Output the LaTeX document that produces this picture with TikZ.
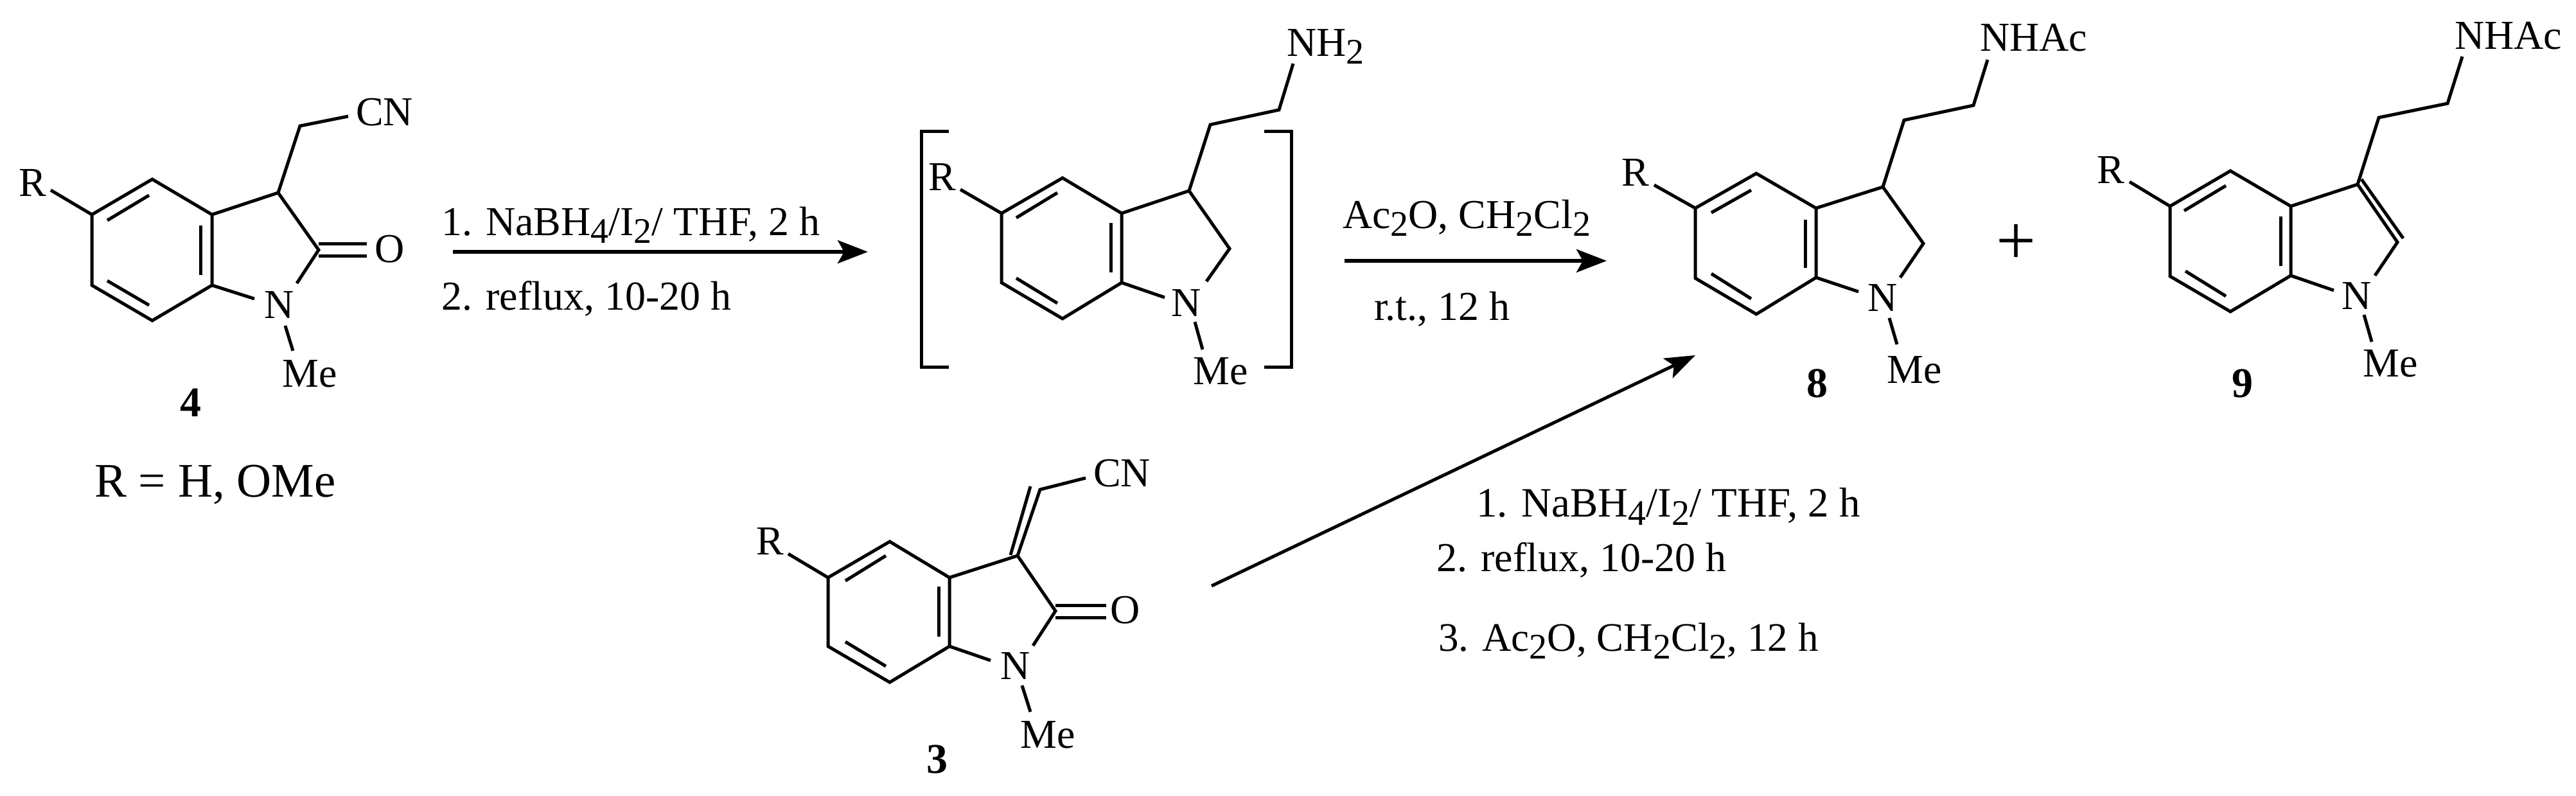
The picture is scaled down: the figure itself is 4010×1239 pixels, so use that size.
\documentclass[tikz,border=0pt]{standalone}
\usepackage{fontspec}
\setmainfont{Liberation Serif}
\usetikzlibrary{arrows.meta}
\newcommand{\sbs}[1]{\raisebox{-.2em}{\fontsize{56}{56}\selectfont #1}}
\newcommand{\ringbonds}[1]{\draw[bond] (#1t)--(#1ul)--(#1ll)--(#1b)--(#1lr)--(#1ur)--cycle;}
\tikzset{
  bond/.style={line width=5pt,line join=miter,line cap=butt,black},
  txt/.style={inner sep=0pt,outer sep=0pt,font=\fontsize{64}{70}\selectfont,text=black},
  lead/.style={txt,anchor=base west},
  num/.style={txt,font=\fontsize{66}{70}\selectfont\bfseries},
  rxn/.style={line width=5.6pt,black,-{Stealth[length=47pt,width=36pt,inset=10pt]}},
  rxnthin/.style={line width=5pt,black,-{Stealth[length=47pt,width=34pt,inset=10pt]}},
}
\begin{document}
\begin{tikzpicture}[x=1pt,y=-1pt]
\useasboundingbox[fill=white] (0,0) rectangle (4010,1239);

% ---------- compound 4
\coordinate (At) at (237,279); \coordinate (Aul) at (143,334); \coordinate (All) at (143,444);
\coordinate (Ab) at (237,499); \coordinate (Alr) at (330,444); \coordinate (Aur) at (330,334);
\coordinate (Ac3) at (433,300); \coordinate (Ac2) at (496,389); \coordinate (Ach) at (467,196);
\coordinate (Acn) at (542,181); \coordinate (Ar) at (79,296); \coordinate (Anl) at (396,465);
\coordinate (Anr) at (462,441); \coordinate (Anm) at (444,507); \coordinate (Ame) at (456,546);
\coordinate (Ao1) at (496,379); \coordinate (Ao2) at (571,379); \coordinate (Ao3) at (496,398); \coordinate (Ao4) at (571,398);
\coordinate (Ai1) at (232,304); \coordinate (Ai2) at (167,343); \coordinate (Ai3) at (312,351);
\coordinate (Ai4) at (312,428); \coordinate (Ai5) at (167,437); \coordinate (Ai6) at (232,475);
\ringbonds{A}
\draw[bond] (Aur)--(Ac3)--(Ac2)--(Anr);
\draw[bond] (Ac3)--(Ach)--(Acn);
\draw[bond] (Aul)--(Ar);
\draw[bond] (Alr)--(Anl);
\draw[bond] (Anm)--(Ame);
\draw[bond] (Ao1)--(Ao2);
\draw[bond] (Ao3)--(Ao4);
\draw[bond] (Ai1)--(Ai2);
\draw[bond] (Ai3)--(Ai4);
\draw[bond] (Ai5)--(Ai6);
\node[txt] (AR) at (51,285) {R};
\node[lead] (ACN) at (554,195) {CN};
\node[txt] (AO) at (607,388) {O};
\node[txt] (AN) at (435,475) {N};
\node[txt] (AMe) at (482,582) {Me};
\node[num] (lab4) at (297,627) {4};
\node[txt,font=\fontsize{75}{80}\selectfont] (Rdef) at (335,754) {R = H, OMe};

% ---------- arrow 1
\coordinate (s1) at (705,392); \coordinate (e1) at (1351,392);
\draw[rxn] (s1) -- (e1);
\node[lead] (r1a) at (687,366) {1. NaBH\sbs{4}/I\sbs{2}/ THF, 2 h};
\node[lead] (r1b) at (687,482) {2. reflux, 10-20 h};

% ---------- intermediate
\coordinate (Bt) at (1654,277); \coordinate (Bul) at (1559,332); \coordinate (Bll) at (1559,440);
\coordinate (Bb) at (1654,496); \coordinate (Blr) at (1746,440); \coordinate (Bur) at (1746,332);
\coordinate (Bc3) at (1851,297); \coordinate (Bc2) at (1914,387); \coordinate (Bch) at (1884,194);
\coordinate (Bch2) at (1991,171); \coordinate (Bnh) at (2013,99); \coordinate (Br) at (1495,295);
\coordinate (Bnl) at (1813,463); \coordinate (Bnr) at (1878,438); \coordinate (Bnm) at (1860,501); \coordinate (Bme) at (1872,544);
\coordinate (Bi1) at (1646,300); \coordinate (Bi2) at (1582,339); \coordinate (Bi3) at (1729,347);
\coordinate (Bi4) at (1729,424); \coordinate (Bi5) at (1582,433); \coordinate (Bi6) at (1646,472);
\ringbonds{B}
\draw[bond] (Bur)--(Bc3)--(Bc2)--(Bnr);
\draw[bond] (Bc3)--(Bch)--(Bch2)--(Bnh);
\draw[bond] (Bul)--(Br);
\draw[bond] (Blr)--(Bnl);
\draw[bond] (Bnm)--(Bme);
\draw[bond] (Bi1)--(Bi2);
\draw[bond] (Bi3)--(Bi4);
\draw[bond] (Bi5)--(Bi6);
\node[txt] (BR) at (1467,276) {R};
\node[lead] (BNH) at (2003,87) {NH\sbs{2}};
\node[txt] (BN) at (1847,472) {N};
\node[txt] (BMe) at (1900,578) {Me};
\coordinate (bl1) at (1477,204); \coordinate (bl2) at (1434,204); \coordinate (bl3) at (1434,571); \coordinate (bl4) at (1477,571);
\coordinate (br1) at (1968,204); \coordinate (br2) at (2010,204); \coordinate (br3) at (2010,571); \coordinate (br4) at (1968,571);
\draw[bond] (bl1)--(bl2)--(bl3)--(bl4);
\draw[bond] (br1)--(br2)--(br3)--(br4);

% ---------- arrow 2
\coordinate (s2) at (2093,406); \coordinate (e2) at (2501,406);
\draw[rxn] (s2) -- (e2);
\node[lead] (r2a) at (2090,355) {Ac\sbs{2}O, CH\sbs{2}Cl\sbs{2}};
\node[lead] (r2b) at (2139,498) {r.t., 12 h};

% ---------- compound 8
\coordinate (Ct) at (2734,270); \coordinate (Cul) at (2639,324); \coordinate (Cll) at (2639,433);
\coordinate (Cb) at (2734,489); \coordinate (Clr) at (2827,432); \coordinate (Cur) at (2827,324);
\coordinate (Cc3) at (2931,291); \coordinate (Cc2) at (2994,379); \coordinate (Cch) at (2964,187);
\coordinate (Cch2) at (3072,164); \coordinate (Cnh) at (3094,93); \coordinate (Cr) at (2575,288);
\coordinate (Cnl) at (2893,454); \coordinate (Cnr) at (2958,432); \coordinate (Cnm) at (2941,495); \coordinate (Cme) at (2953,536);
\coordinate (Ci1) at (2726,296); \coordinate (Ci2) at (2664,331); \coordinate (Ci3) at (2810,342);
\coordinate (Ci4) at (2810,417); \coordinate (Ci5) at (2664,426); \coordinate (Ci6) at (2726,465);
\ringbonds{C}
\draw[bond] (Cur)--(Cc3)--(Cc2)--(Cnr);
\draw[bond] (Cc3)--(Cch)--(Cch2)--(Cnh);
\draw[bond] (Cul)--(Cr);
\draw[bond] (Clr)--(Cnl);
\draw[bond] (Cnm)--(Cme);
\draw[bond] (Ci1)--(Ci2);
\draw[bond] (Ci3)--(Ci4);
\draw[bond] (Ci5)--(Ci6);
\node[txt] (CR) at (2546,269) {R};
\node[lead] (CNH) at (3082,80) {NHAc};
\node[txt] (CN) at (2931,464) {N};
\node[txt] (CMe) at (2980,576) {Me};
\node[num] (lab8) at (2829,597) {8};

\node[txt,font=\fontsize{110}{110}\selectfont] (plus) at (3138,380) {+};

% ---------- compound 9
\coordinate (Dt) at (3472,266); \coordinate (Dul) at (3378,321); \coordinate (Dll) at (3378,430);
\coordinate (Db) at (3472,485); \coordinate (Dlr) at (3566,429); \coordinate (Dur) at (3566,321);
\coordinate (Dc3) at (3670,287); \coordinate (Dc2) at (3732,377); \coordinate (Dd1) at (3676,279); \coordinate (Dd2) at (3741,371);
\coordinate (Dch) at (3703,183); \coordinate (Dch2) at (3810,161); \coordinate (Dnh) at (3833,88); \coordinate (Dr) at (3315,283);
\coordinate (Dnl) at (3633,452); \coordinate (Dnr) at (3697,429); \coordinate (Dnm) at (3680,490); \coordinate (Dme) at (3692,532);
\coordinate (Di1) at (3465,289); \coordinate (Di2) at (3400,328); \coordinate (Di3) at (3550,337);
\coordinate (Di4) at (3550,414); \coordinate (Di5) at (3402,422); \coordinate (Di6) at (3465,461);
\ringbonds{D}
\draw[bond] (Dur)--(Dc3)--(Dc2)--(Dnr);
\draw[bond] (Dd1)--(Dd2);
\draw[bond] (Dc3)--(Dch)--(Dch2)--(Dnh);
\draw[bond] (Dul)--(Dr);
\draw[bond] (Dlr)--(Dnl);
\draw[bond] (Dnm)--(Dme);
\draw[bond] (Di1)--(Di2);
\draw[bond] (Di3)--(Di4);
\draw[bond] (Di5)--(Di6);
\node[txt] (DR) at (3286,265) {R};
\node[lead] (DNH) at (3821,77) {NHAc};
\node[txt] (DN) at (3669,461) {N};
\node[txt] (DMe) at (3721,566) {Me};
\node[num] (lab9) at (3491,597) {9};

% ---------- compound 3
\coordinate (Et) at (1385,843); \coordinate (Eul) at (1289,899); \coordinate (Ell) at (1289,1006);
\coordinate (Eb) at (1385,1062); \coordinate (Elr) at (1478,1006); \coordinate (Eur) at (1478,899);
\coordinate (Ec3) at (1584,865); \coordinate (Ec2) at (1643,951); \coordinate (Ech) at (1619,762);
\coordinate (Ed1) at (1573,864); \coordinate (Ed2) at (1604,757); \coordinate (Ecn) at (1690,744);
\coordinate (Er) at (1227,862); \coordinate (Enl) at (1542,1028); \coordinate (Enr) at (1608,1005);
\coordinate (Enm) at (1591,1067); \coordinate (Eme) at (1604,1108);
\coordinate (Eo1) at (1643,942); \coordinate (Eo2) at (1722,942); \coordinate (Eo3) at (1643,961); \coordinate (Eo4) at (1722,961);
\coordinate (Ei1) at (1379,865); \coordinate (Ei2) at (1316,904); \coordinate (Ei3) at (1461,913);
\coordinate (Ei4) at (1461,991); \coordinate (Ei5) at (1316,999); \coordinate (Ei6) at (1379,1037);
\ringbonds{E}
\draw[bond] (Eur)--(Ec3)--(Ec2)--(Enr);
\draw[bond] (Ec3)--(Ech)--(Ecn);
\draw[bond] (Ed1)--(Ed2);
\draw[bond] (Eul)--(Er);
\draw[bond] (Elr)--(Enl);
\draw[bond] (Enm)--(Eme);
\draw[bond] (Eo1)--(Eo2);
\draw[bond] (Eo3)--(Eo4);
\draw[bond] (Ei1)--(Ei2);
\draw[bond] (Ei3)--(Ei4);
\draw[bond] (Ei5)--(Ei6);
\node[txt] (ER) at (1199,843) {R};
\node[lead] (ECN) at (1702,757) {CN};
\node[txt] (EO) at (1752,950) {O};
\node[txt] (EN) at (1581,1037) {N};
\node[txt] (EMe) at (1631,1144) {Me};
\node[num] (lab3) at (1459,1182) {3};

% ---------- arrow 3
\coordinate (s3) at (1886,912); \coordinate (e3) at (2639,553);
\draw[rxnthin] (s3) -- (e3);
\node[lead,font=\fontsize{65}{70}\selectfont] (r3a) at (2298,804) {1. NaBH\sbs{4}/I\sbs{2}/ THF, 2 h};
\node[lead] (r3b) at (2236,889) {2. reflux, 10-20 h};
\node[lead,font=\fontsize{63}{70}\selectfont] (r3c) at (2239,1013) {3. Ac\sbs{2}O, CH\sbs{2}Cl\sbs{2}, 12 h};
\end{tikzpicture}
\end{document}
